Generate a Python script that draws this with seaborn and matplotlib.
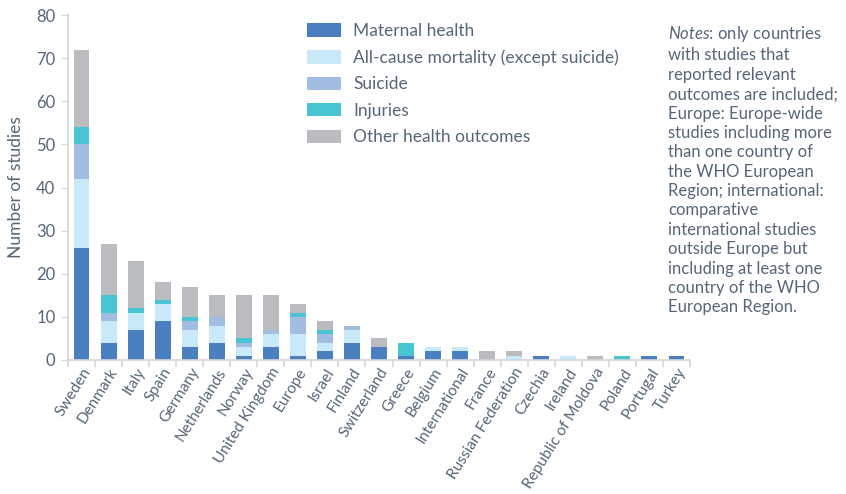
import matplotlib
matplotlib.use("Agg")
import numpy as np
import matplotlib.pyplot as plt
import seaborn as sns

countries = ["Sweden", "Denmark", "Italy", "Spain", "Germany", "Netherlands", "Norway",
             "United Kingdom", "Europe", "Israel", "Finland", "Switzerland", "Greece",
             "Belgium", "International", "France", "Russian Federation", "Czechia",
             "Ireland", "Republic of Moldova", "Poland", "Portugal", "Turkey"]

maternal = [26, 4, 7, 9, 3, 4, 1, 3, 1, 2, 4, 3, 1, 2, 2, 0, 0, 1, 0, 0, 0, 1, 1]
all_cause = [16, 5, 4, 4, 4, 4, 2, 3, 5, 2, 3, 0, 0, 1, 1, 0, 1, 0, 1, 0, 0, 0, 0]
suicide = [8, 2, 0, 0, 2, 2, 1, 1, 4, 2, 1, 0, 0, 0, 0, 0, 0, 0, 0, 0, 0, 0, 0]
injuries = [4, 4, 1, 1, 1, 0, 1, 0, 1, 1, 0, 0, 3, 0, 0, 0, 0, 0, 0, 0, 1, 0, 0]
other = [18, 12, 11, 4, 7, 5, 10, 8, 2, 2, 0, 2, 0, 0, 0, 2, 1, 0, 0, 1, 0, 0, 0]

series_names = ["Maternal health", "All-cause mortality (except suicide)", "Suicide",
                "Injuries", "Other health outcomes"]
series_colors = ["#4a80c0", "#c8e9f8", "#a3bde2", "#48c4d2", "#bbbcc0"]

note = ("$\\it{Notes}$: only countries\nwith studies that\nreported relevant\n"
        "outcomes are included;\nEurope: Europe-wide\nstudies including more\n"
        "than one country of\nthe WHO European\nRegion; international:\n"
        "comparative\ninternational studies\noutside Europe but\n"
        "including at least one\ncountry of the WHO\nEuropean Region.")

txt = "#56667a"
grey = "#d6d6d6"

sns.set_style("white")
plt.rcParams["font.family"] = ["Lato", "DejaVu Sans"]
plt.rcParams["mathtext.fontset"] = "custom"
plt.rcParams["mathtext.rm"] = "Lato"
plt.rcParams["mathtext.it"] = "Lato:italic"

fig = plt.figure(figsize=(8.46, 4.94), dpi=100)
ax = fig.add_axes([68 / 846, 1 - 360 / 494, 622 / 846, 345 / 494])

bottom = np.zeros(len(countries))
for name, vals, col in zip(series_names, [maternal, all_cause, suicide, injuries, other], series_colors):
    sns.barplot(x=countries, y=vals, order=countries, bottom=bottom, color=col,
                width=0.59, errorbar=None, label=name, saturation=1, linewidth=0, ax=ax)
    bottom = bottom + np.array(vals)

ax.set_xlim(-0.5, len(countries) - 0.5)
ax.set_ylim(0, 80)
ax.set_yticks(range(0, 81, 10))
ax.set_ylabel("Number of studies", fontsize=12.5, color=txt, labelpad=9)
ax.set_xlabel("")

for s in ["top", "right"]:
    ax.spines[s].set_visible(False)
for s in ["left", "bottom"]:
    ax.spines[s].set_color(grey)
    ax.spines[s].set_linewidth(1.2)

ax.tick_params(axis="y", length=5, color=grey, labelsize=12, labelcolor=txt, pad=4, left=True)
ax.tick_params(axis="x", which="major", length=0, pad=4)
ax.set_xticks(np.arange(-0.5, len(countries)), minor=True)
ax.tick_params(axis="x", which="minor", length=5, color=grey, width=1.2, bottom=True)
ax.set_xticklabels(countries, rotation=58, ha="right", va="top", rotation_mode="anchor",
                   fontsize=11.1, color=txt)

leg = ax.legend(loc="upper left", bbox_to_anchor=(307 / 846, 1 - 23 / 494),
                bbox_transform=fig.transFigure, frameon=False, fontsize=12.5,
                handlelength=1.95, handleheight=0.8, handletextpad=0.7,
                labelspacing=0.6, borderpad=0, borderaxespad=0)
for t in leg.get_texts():
    t.set_color(txt)

fig.text(668 / 846, 1 - 24 / 494, note, ha="left", va="top", fontsize=12,
         color=txt, linespacing=1.26)

fig.savefig("out.png", dpi=100)
